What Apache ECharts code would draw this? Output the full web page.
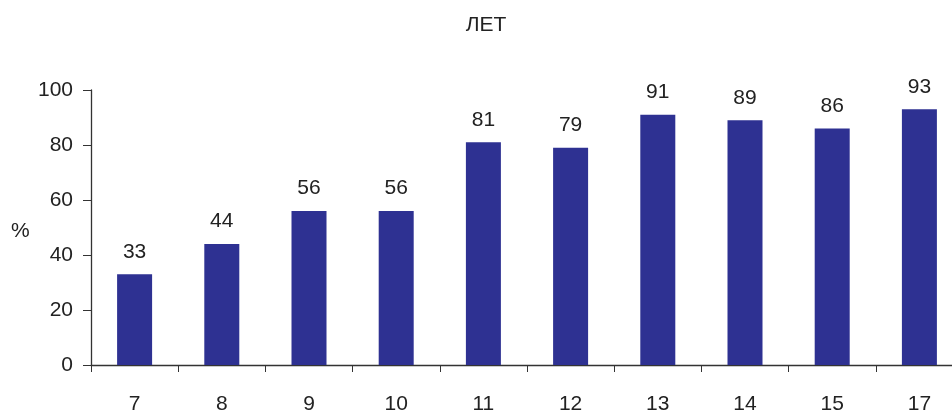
<!DOCTYPE html>
<html>
<head>
<meta charset="utf-8">
<script src="https://cdn.jsdelivr.net/npm/echarts@6/dist/echarts.min.js"></script>
<style>
html,body{margin:0;padding:0;background:#fff;}
#chart{width:952px;height:414px;}
</style>
</head>
<body>
<div id="chart"></div>
<script>
var ages = ['7', '8', '9', '10', '11', '12', '13', '14', '15', '17'];
var percents = [33, 44, 56, 56, 81, 79, 91, 89, 86, 93];
var yTicks = [0, 20, 40, 60, 80, 100];

var myChart = echarts.init(document.getElementById('chart'));
var option = {
    animation: false,
    textStyle: { fontFamily: 'Liberation Sans, Arial, sans-serif' },
    title: [{
        text: 'ЛЕТ',
        left: 481,
        top: 10,
        textAlign: 'center',
        textStyle: { color: '#222', fontSize: 21, fontWeight: 'normal' }
    }, {
        // y-axis unit, placed left of the axis like the reference
        text: '%',
        left: 11,
        top: 221,
        padding: 0,
        textStyle: { color: '#222', fontSize: 21, fontWeight: 'normal' }
    }],
    grid: { left: 91, top: 90, width: 872, height: 275, outerBoundsMode: 'none' },
    xAxis: {
        type: 'category',
        data: ages,
        axisLine: { lineStyle: { color: '#333', width: 1.3 } },
        axisTick: { show: true, length: 7, lineStyle: { color: '#333' } },
        axisLabel: { color: '#222', fontSize: 21, margin: 29 }
    },
    yAxis: {
        type: 'value',
        min: yTicks[0],
        max: yTicks[yTicks.length - 1],
        interval: 20,
        axisLine: { show: true, lineStyle: { color: '#333', width: 1.3 } },
        axisTick: { show: true, length: 8, lineStyle: { color: '#333' } },
        splitLine: { show: false },
        axisLabel: { color: '#222', fontSize: 21, margin: 18 }
    },
    series: [{
        type: 'bar',
        data: percents,
        barWidth: 35,
        itemStyle: { color: '#2E3192' },
        label: {
            show: true,
            position: 'top',
            distance: 12,
            color: '#222',
            fontSize: 21
        }
    }]
};
myChart.setOption(option);
window.addEventListener('resize', function () {
    myChart.resize();
});
</script>
</body>
</html>
